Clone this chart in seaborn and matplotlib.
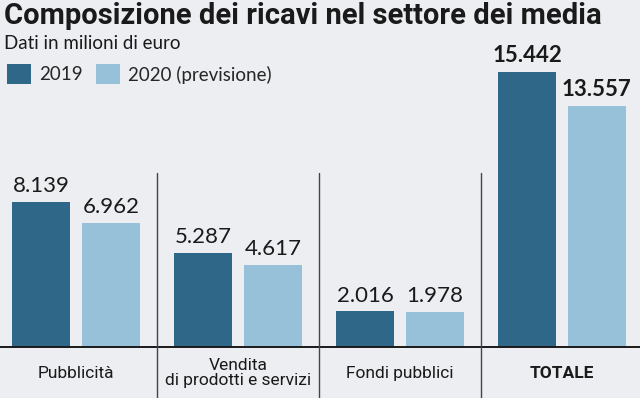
import pandas as pd
import matplotlib.pyplot as plt
import seaborn as sns

# dati (milioni di euro)
categorie = ['Pubblicità', 'Vendita\ndi prodotti e servizi', 'Fondi pubblici', 'TOTALE']
ricavi_2019 = [8139, 5287, 2016, 15442]
ricavi_2020 = [6962, 4617, 1978, 13557]
serie = ['2019', '2020 (previsione)']
colori = ['#2f6788', '#97c1d8']

df = pd.DataFrame({
    'categoria': categorie * 2,
    'anno': [serie[0]] * len(categorie) + [serie[1]] * len(categorie),
    'ricavi': ricavi_2019 + ricavi_2020,
})

sns.set_theme(style='white')
plt.rcParams['font.family'] = ['Lato', 'DejaVu Sans']
bg = '#eceef1'

fig = plt.figure(figsize=(6.4, 3.98), dpi=100, facecolor=bg)
ax = fig.add_axes([0, 51 / 398, 1, 285 / 398], facecolor=bg)

sns.barplot(data=df, x='categoria', y='ricavi', hue='anno', palette=colori,
            width=0.86, gap=0.17, saturation=1, linewidth=0, ax=ax)

ax.set_xlim(-76 / 162, (640 - 76) / 162)
ax.set_ylim(0, 16000)
sns.despine(ax=ax, left=True, bottom=True)
ax.set_yticks([])
ax.set_xlabel('')
ax.set_ylabel('')

# etichette dei valori
fmt = lambda v: f'{v:,}'.replace(',', '.')
for cont, vals in zip(ax.containers, [ricavi_2019, ricavi_2020]):
    txts = ax.bar_label(cont, labels=[fmt(v) for v in vals], padding=4,
                        fontsize=16, color='#1a1a1a')
    txts[-1].set_fontweight('bold')

# linea di base e separatori
ax.axhline(0, color='#1a1a1a', lw=1.4, clip_on=False)
for x in [0.5, 1.5, 2.5]:
    ax.axvline(x, ymin=-51 / 285, ymax=(347 - 173) / 285, color='#444444',
               lw=1, clip_on=False)

# etichette delle categorie
ax.tick_params(axis='x', length=0, pad=19)
ax.set_xticks(range(len(categorie)))
ax.set_xticklabels(categorie, fontsize=12.5, family=['Roboto', 'DejaVu Sans'],
                   color='#1a1a1a', linespacing=1.0)
for lbl in ax.get_xticklabels():
    lbl.set_va('center')
ax.get_xticklabels()[-1].set_fontweight('bold')

# legenda
sns.move_legend(ax, loc='upper left', bbox_to_anchor=(7 / 640, 1 - 64 / 398),
                bbox_transform=fig.transFigure, ncol=2, frameon=False,
                title=None, fontsize=13.5, handlelength=1.3, handleheight=1.3,
                columnspacing=0.7, handletextpad=0.4, borderpad=0,
                borderaxespad=0)

fig.text(0.006, 0.995, 'Composizione dei ricavi nel settore dei media',
         fontsize=21, fontweight='bold', family=['Roboto', 'DejaVu Sans'],
         color='#1a1a1a', va='top', ha='left')
fig.text(0.006, 0.912, 'Dati in milioni di euro', fontsize=13.5,
         color='#1a1a1a', va='top', ha='left')

fig.savefig('out.png', dpi=100, facecolor=bg)
